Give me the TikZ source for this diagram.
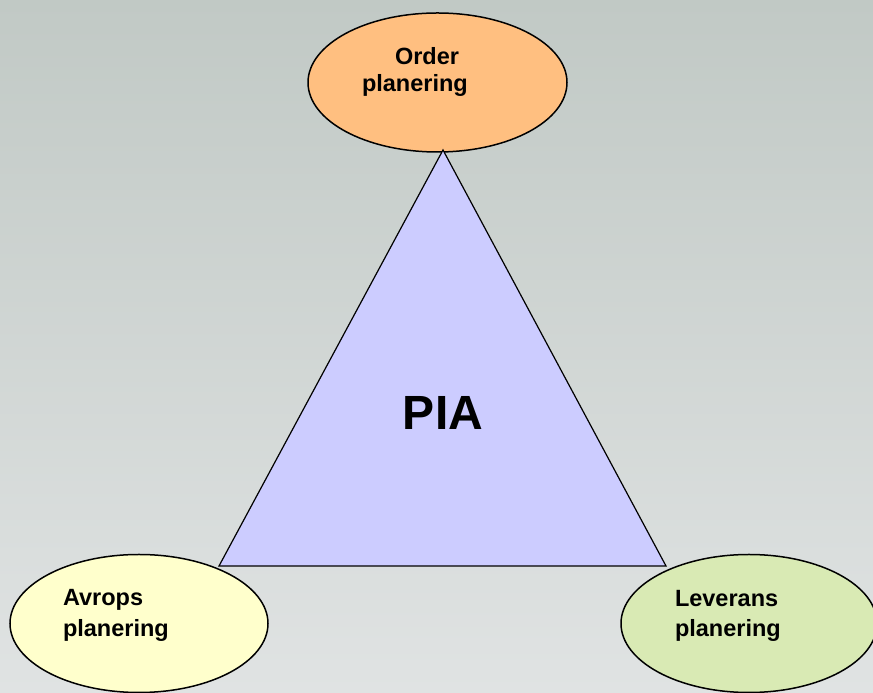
\documentclass[tikz,border=0pt]{standalone}
\usepackage{fontspec}
\setmainfont{Liberation Sans}
\usetikzlibrary{shapes.geometric}

\tikzset{
  planEllipse/.style={ellipse, draw=drawColor, line width=1.5pt, inner sep=0pt,
    minimum width=258pt, minimum height=138pt},
  planText/.style={text=drawColor, anchor=base west, inner sep=0pt, outer sep=0pt,
    font=\bfseries\fontsize{23.5}{27}\selectfont}
}

\begin{document}
\begin{tikzpicture}[x=1pt,y=1pt]
\definecolor{bgTop}{RGB}{193,201,197}
\definecolor{bgBottom}{RGB}{224,227,227}
\definecolor{drawColor}{RGB}{0,0,0}
\definecolor{orderColor}{RGB}{255,191,128}
\definecolor{avropsColor}{RGB}{255,255,204}
\definecolor{leveransColor}{RGB}{217,234,180}
\definecolor{piaColor}{RGB}{204,204,255}
\path[use as bounding box,top color=bgTop,bottom color=bgBottom] (0,0) rectangle (873,693);
\begin{scope}
\path[clip] (0,0) rectangle (873,693);

% the three planning ellipses
\node[planEllipse,fill=orderColor,minimum width=259pt,minimum height=139pt] (order) at (437.5,610.5) {};
\node[planEllipse,fill=avropsColor] (avrops) at (139.0,69.5) {};
\node[planEllipse,fill=leveransColor,minimum width=256pt] (leverans) at (749.0,69.5) {};

% the triangle in the middle
\coordinate (apex) at (443,543);
\coordinate (baseL) at (219,127);
\coordinate (baseR) at (666,127);
\path[draw=drawColor,fill=piaColor,line width=1.2pt,line join=miter] (apex) -- (baseR) -- (baseL) -- cycle;

\node[text=drawColor,anchor=base,inner sep=0pt,outer sep=0pt,font=\bfseries\fontsize{48}{56}\selectfont] (pia) at (443,263.5) {PIA};

\node[planText] (orderA) at (395,628) {Order};
\node[planText] (orderB) at (362,601.3) {planering};

\node[planText] (avropsA) at (63,87) {Avrops};
\node[planText] (avropsB) at (63,56.3) {planering};

\node[planText] (leveransA) at (675,86.3) {Leverans};
\node[planText] (leveransB) at (675,56) {planering};
\end{scope}
\end{tikzpicture}
\end{document}
